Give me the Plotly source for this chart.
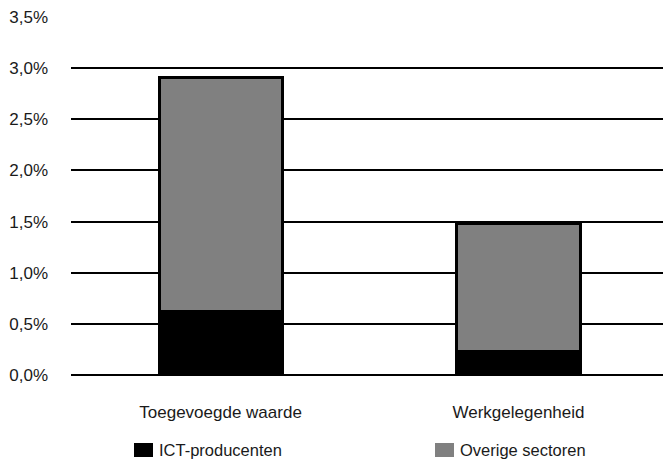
import plotly.graph_objects as go

# Bijdrage aan de groei (procentpunten), per sector
categories = ["Toegevoegde waarde", "Werkgelegenheid"]
ict_producenten = [0.62, 0.23]
overige_sectoren = [2.29, 1.25]
series_names = ["ICT-producenten", "Overige sectoren"]
series_colors = ["#000000", "#808080"]

y_ticks = [0.0, 0.5, 1.0, 1.5, 2.0, 2.5, 3.0, 3.5]
y_ticktext = [f"{v:.1f}".replace(".", ",") + "%" for v in y_ticks]

font_family = "Liberation Sans, Arial, sans-serif"
text_color = "#1a1a1a"

W, H = 663, 460
M_L, M_R, M_T, M_B = 71, 0, 17, 85
plot_w = W - M_L - M_R
plot_h = H - M_T - M_B


def px_to_paper_x(px):
    return (px - M_L) / plot_w


def px_to_paper_y(py):
    return (H - M_B - py) / plot_h


fig = go.Figure()
for name, values, color in zip(series_names, [ict_producenten, overige_sectoren], series_colors):
    fig.add_trace(go.Bar(
        x=categories,
        y=values,
        name=name,
        marker=dict(color=color, line=dict(color="#000000", width=3)),
        showlegend=False,
    ))

# Legend row below the axis: a filled box followed by the series name
legend_slots = [134, 435]
shapes = []
annotations = []
for slot, name, color in zip(legend_slots, series_names, series_colors):
    shapes.append(dict(
        type="rect", xref="paper", yref="paper",
        x0=px_to_paper_x(slot), x1=px_to_paper_x(slot + 19),
        y0=px_to_paper_y(457), y1=px_to_paper_y(443),
        fillcolor=color, line=dict(width=0),
    ))
    annotations.append(dict(
        xref="paper", yref="paper",
        x=px_to_paper_x(slot + 23), y=px_to_paper_y(450),
        xanchor="left", yanchor="middle",
        text=name, showarrow=False,
        font=dict(size=16.5, color=text_color, family=font_family),
    ))

fig.update_layout(
    width=W,
    height=H,
    barmode="stack",
    bargap=0.587,
    plot_bgcolor="white",
    paper_bgcolor="white",
    font=dict(family=font_family, size=17, color=text_color),
    margin=dict(l=M_L, r=M_R, t=M_T, b=M_B),
    showlegend=False,
    shapes=shapes,
    annotations=annotations,
    xaxis=dict(
        range=[-0.502, 1.485],
        showgrid=False,
        showline=False,
        ticks="",
        ticklabelstandoff=25,
        tickfont=dict(size=17),
        automargin=False,
    ),
    yaxis=dict(
        range=[0, 3.5],
        tickvals=y_ticks,
        ticktext=y_ticktext,
        showgrid=True,
        gridcolor="#000000",
        gridwidth=2,
        zeroline=True,
        zerolinecolor="#000000",
        zerolinewidth=2,
        showline=False,
        ticks="",
        ticklabelstandoff=22,
        tickfont=dict(size=17),
        automargin=False,
    ),
)

fig.write_html("out.html")
